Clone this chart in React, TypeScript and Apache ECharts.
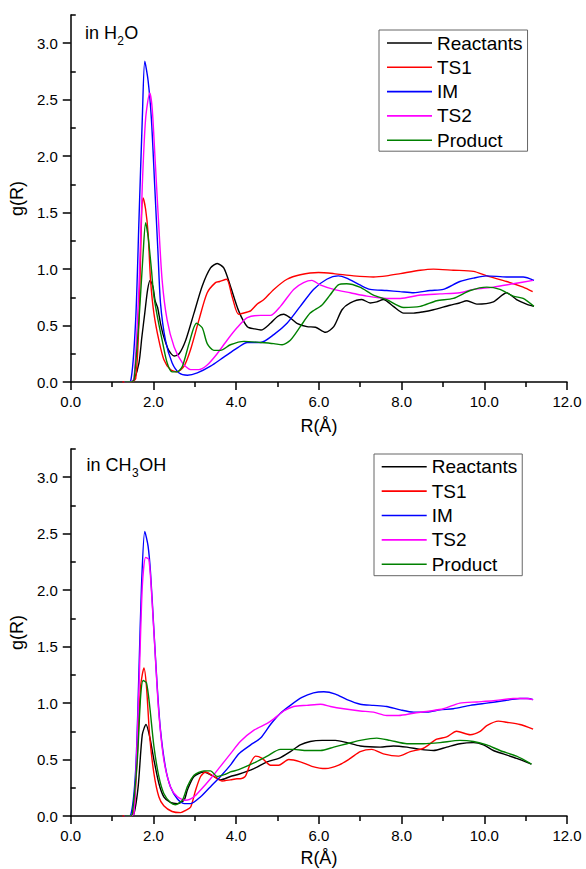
import React, { useEffect, useRef } from 'react';
import * as echarts from 'echarts';

type Pt = [number, number];

const seriesNames = ['Reactants', 'TS1', 'IM', 'TS2', 'Product'];
const seriesColors = ['#000000', '#ff0000', '#0000ff', '#ff00ff', '#008000'];

const yMajorTicks = [0, 0.5, 1.0, 1.5, 2.0, 2.5, 3.0];
const yMinorTicks = [0.25, 0.75, 1.25, 1.75, 2.25, 2.75, 3.25];

// ---- in H2O ----
const h2oReactants: Pt[] = [[1.3,0],[1.45,0],[1.53,0.02],[1.65,0.17],[1.72,0.4],[1.79,0.61],[1.86,0.82],[1.92,0.9],[1.99,0.84],[2.04,0.72],[2.1,0.66],[2.17,0.52],[2.25,0.4],[2.37,0.28],[2.5,0.23],[2.62,0.25],[2.78,0.37],[2.98,0.61],[3.18,0.85],[3.38,1.01],[3.54,1.05],[3.7,1.01],[3.86,0.85],[4.06,0.63],[4.27,0.49],[4.45,0.47],[4.6,0.46],[4.83,0.52],[5.0,0.58],[5.15,0.6],[5.3,0.57],[5.47,0.52],[5.71,0.49],[5.92,0.485],[6.16,0.44],[6.36,0.49],[6.56,0.64],[6.76,0.7],[7.04,0.73],[7.24,0.7],[7.4,0.71],[7.56,0.73],[7.8,0.67],[8.05,0.61],[8.29,0.61],[8.5,0.62],[8.77,0.64],[9.17,0.68],[9.4,0.7],[9.58,0.72],[9.82,0.69],[10.22,0.71],[10.54,0.79],[10.78,0.73],[11.02,0.69],[11.2,0.67]];
const h2oTS1: Pt[] = [[1.25,0],[1.45,0],[1.57,0.03],[1.65,0.55],[1.71,1.44],[1.75,1.63],[1.81,1.53],[1.87,1.32],[1.93,0.9],[2.01,0.61],[2.13,0.37],[2.25,0.2],[2.41,0.11],[2.57,0.09],[2.74,0.14],[2.9,0.29],[3.1,0.55],[3.3,0.79],[3.5,0.88],[3.6,0.89],[3.77,0.91],[3.9,0.76],[4.06,0.6],[4.27,0.62],[4.35,0.63],[4.51,0.69],[4.67,0.73],[4.91,0.82],[5.23,0.91],[5.55,0.95],[5.99,0.97],[6.36,0.96],[6.84,0.94],[7.32,0.93],[7.64,0.94],[7.97,0.96],[8.45,0.99],[8.77,1.0],[9.25,0.99],[9.74,0.98],[10.06,0.94],[10.54,0.89],[10.94,0.84],[11.17,0.8]];
const h2oIM: Pt[] = [[1.3,0],[1.45,0.01],[1.57,0.55],[1.65,1.44],[1.73,2.33],[1.79,2.84],[1.87,2.67],[1.95,2.33],[2.03,1.74],[2.11,1.14],[2.17,0.7],[2.29,0.37],[2.45,0.17],[2.62,0.08],[2.82,0.06],[3.06,0.08],[3.38,0.14],[3.7,0.22],[4.02,0.3],[4.27,0.35],[4.59,0.35],[4.91,0.42],[5.23,0.52],[5.55,0.67],[5.87,0.82],[6.19,0.91],[6.47,0.94],[6.67,0.92],[6.99,0.86],[7.24,0.82],[7.64,0.81],[7.97,0.8],[8.29,0.79],[8.69,0.81],[9.01,0.82],[9.41,0.89],[9.74,0.92],[10.06,0.94],[10.54,0.93],[10.94,0.93],[11.2,0.9]];
const h2oTS2: Pt[] = [[1.3,0],[1.45,0],[1.53,0.03],[1.65,0.85],[1.73,1.74],[1.81,2.33],[1.91,2.56],[1.97,2.42],[2.04,1.97],[2.12,1.44],[2.21,0.9],[2.33,0.55],[2.5,0.31],[2.7,0.17],[2.9,0.11],[3.1,0.11],[3.3,0.15],[3.54,0.25],[3.78,0.37],[4.02,0.48],[4.27,0.57],[4.59,0.59],[4.83,0.59],[5.07,0.67],[5.39,0.82],[5.63,0.88],[5.83,0.9],[6.03,0.86],[6.36,0.82],[6.76,0.79],[7.16,0.76],[7.64,0.74],[7.97,0.74],[8.45,0.77],[8.93,0.78],[9.41,0.79],[9.74,0.82],[10.22,0.84],[10.7,0.87],[11.18,0.9]];
const h2oProduct: Pt[] = [[1.3,0],[1.45,0],[1.53,0.02],[1.65,0.55],[1.75,1.14],[1.81,1.41],[1.87,1.29],[1.95,1.0],[2.01,0.76],[2.11,0.55],[2.21,0.37],[2.33,0.17],[2.45,0.09],[2.57,0.09],[2.7,0.14],[2.86,0.34],[3.04,0.52],[3.18,0.48],[3.3,0.34],[3.46,0.28],[3.62,0.28],[3.86,0.33],[4.19,0.36],[4.59,0.35],[4.91,0.34],[5.11,0.33],[5.31,0.37],[5.55,0.49],[5.79,0.61],[6.07,0.68],[6.27,0.77],[6.47,0.86],[6.67,0.87],[6.99,0.84],[7.32,0.77],[7.64,0.73],[8.05,0.66],[8.45,0.67],[8.85,0.72],[9.25,0.74],[9.66,0.81],[10.06,0.84],[10.38,0.82],[10.7,0.76],[10.94,0.74],[11.2,0.67]];

// ---- in CH3OH ----
const meohReactants: Pt[] = [[1.3,0],[1.45,0],[1.53,0.02],[1.63,0.26],[1.73,0.72],[1.82,0.81],[1.91,0.7],[2.01,0.5],[2.13,0.29],[2.25,0.17],[2.41,0.12],[2.58,0.11],[2.74,0.14],[2.82,0.23],[2.98,0.35],[3.22,0.39],[3.46,0.35],[3.62,0.32],[3.86,0.35],[4.06,0.37],[4.43,0.42],[4.75,0.48],[5.03,0.51],[5.31,0.57],[5.55,0.63],[5.79,0.66],[6.08,0.67],[6.4,0.67],[6.68,0.65],[7.0,0.62],[7.48,0.61],[7.8,0.62],[8.13,0.61],[8.45,0.59],[8.77,0.58],[9.09,0.61],[9.41,0.64],[9.74,0.65],[9.98,0.63],[10.22,0.58],[10.46,0.55],[10.78,0.51],[11.14,0.46]];
const meohTS1: Pt[] = [[1.25,0],[1.45,0],[1.53,0.05],[1.61,0.55],[1.69,1.15],[1.77,1.31],[1.83,1.15],[1.91,0.7],[2.01,0.38],[2.13,0.17],[2.25,0.09],[2.45,0.04],[2.66,0.03],[2.78,0.05],[2.9,0.08],[3.02,0.23],[3.14,0.35],[3.26,0.39],[3.46,0.35],[3.66,0.31],[3.86,0.32],[4.02,0.33],[4.1,0.33],[4.22,0.35],[4.35,0.47],[4.47,0.53],[4.63,0.51],[4.83,0.45],[5.03,0.45],[5.27,0.5],[5.55,0.48],[5.83,0.44],[6.16,0.42],[6.48,0.45],[6.76,0.51],[7.0,0.57],[7.28,0.59],[7.56,0.55],[7.93,0.53],[8.21,0.57],[8.53,0.6],[8.85,0.68],[9.09,0.7],[9.33,0.75],[9.66,0.72],[9.9,0.75],[10.06,0.8],[10.34,0.84],[10.54,0.83],[10.86,0.81],[11.18,0.77]];
const meohIM: Pt[] = [[1.3,0],[1.45,0.01],[1.57,0.41],[1.65,1.29],[1.71,2.03],[1.79,2.52],[1.87,2.39],[1.93,2.15],[2.01,1.65],[2.09,1.15],[2.17,0.76],[2.29,0.43],[2.41,0.26],[2.58,0.15],[2.74,0.11],[2.9,0.11],[3.14,0.17],[3.38,0.26],[3.62,0.35],[3.86,0.45],[4.06,0.55],[4.35,0.63],[4.59,0.69],[4.83,0.81],[5.07,0.91],[5.31,0.98],[5.59,1.05],[5.87,1.09],[6.12,1.1],[6.4,1.08],[6.68,1.03],[7.0,0.99],[7.32,0.98],[7.64,0.97],[7.97,0.94],[8.29,0.92],[8.61,0.92],[8.93,0.94],[9.25,0.95],[9.66,0.98],[10.06,1.0],[10.46,1.02],[10.86,1.04],[11.06,1.04],[11.18,1.03]];
const meohTS2: Pt[] = [[1.3,0],[1.45,0],[1.53,0.02],[1.65,1.15],[1.73,2.03],[1.81,2.29],[1.89,2.27],[1.97,1.88],[2.05,1.38],[2.13,0.91],[2.25,0.5],[2.41,0.26],[2.58,0.17],[2.78,0.14],[2.98,0.17],[3.14,0.23],[3.38,0.33],[3.62,0.44],[3.86,0.55],[4.1,0.66],[4.43,0.76],[4.75,0.82],[4.91,0.86],[5.15,0.93],[5.39,0.97],[5.71,0.98],[6.04,0.99],[6.28,0.97],[6.6,0.95],[7.0,0.93],[7.32,0.92],[7.64,0.89],[7.93,0.89],[8.29,0.91],[8.69,0.93],[9.01,0.95],[9.41,1.0],[9.82,1.01],[10.22,1.02],[10.7,1.04],[11.02,1.04],[11.18,1.03]];
const meohProduct: Pt[] = [[1.3,0],[1.45,0],[1.49,0.02],[1.61,0.5],[1.69,1.06],[1.75,1.2],[1.83,1.18],[1.91,0.97],[2.01,0.62],[2.13,0.35],[2.25,0.2],[2.41,0.12],[2.53,0.1],[2.7,0.14],[2.82,0.26],[2.98,0.36],[3.22,0.4],[3.38,0.4],[3.54,0.35],[3.74,0.37],[3.86,0.39],[4.06,0.41],[4.43,0.47],[4.75,0.53],[5.07,0.59],[5.39,0.59],[5.71,0.58],[6.04,0.58],[6.36,0.61],[6.68,0.64],[7.0,0.67],[7.4,0.69],[7.72,0.67],[8.13,0.64],[8.53,0.64],[8.93,0.65],[9.41,0.67],[9.74,0.66],[10.06,0.63],[10.38,0.58],[10.78,0.53],[11.14,0.46]];

const panelData: Pt[][][] = [
  [h2oReactants, h2oTS1, h2oIM, h2oTS2, h2oProduct],
  [meohReactants, meohTS1, meohIM, meohTS2, meohProduct],
];

const FONT = '"Liberation Sans", Arial, Helvetica, sans-serif';

function buildOption(): any {
  const gridTops = [15, 449];
  const grid = gridTops.map((t) => ({ left: 70, width: 497, top: t, height: 367 }));
  const axisLineStyle = { color: '#000', width: 1.5 };
  const xAxis = [0, 1].map((i) => ({
    type: 'value',
    gridIndex: i,
    min: 0,
    max: 12,
    interval: 2,
    axisLine: { show: true, onZero: false, lineStyle: axisLineStyle },
    axisTick: { show: true, length: 8, lineStyle: axisLineStyle },
    minorTick: { show: true, splitNumber: 2, length: 5, lineStyle: axisLineStyle },
    splitLine: { show: false },
    minorSplitLine: { show: false },
    axisLabel: { formatter: (v: number) => v.toFixed(1), fontSize: 15, color: '#000', margin: 12, fontFamily: FONT },
    name: 'R(Å)',
    nameLocation: 'middle',
    nameGap: i === 0 ? 35 : 33,
    nameTextStyle: { fontSize: 18, color: '#000', fontFamily: FONT },
  }));
  const yAxis: any[] = [];
  [0, 1].forEach((i) => {
    yAxis.push({
      type: 'value',
      gridIndex: i,
      min: 0,
      max: 3.25,
      axisLine: { show: true, onZero: false, lineStyle: axisLineStyle },
      axisTick: { show: true, length: 8, lineStyle: axisLineStyle, customValues: yMajorTicks },
      splitLine: { show: false },
      axisLabel: {
        customValues: yMajorTicks,
        formatter: (v: number) => v.toFixed(1),
        fontSize: 15,
        color: '#000',
        margin: 13,
        fontFamily: FONT,
      },
      name: 'g(R)',
      nameLocation: 'middle',
      nameGap: 35,
      nameTextStyle: { fontSize: 18, color: '#000', fontFamily: FONT },
    });
    yAxis.push({
      type: 'value',
      gridIndex: i,
      min: 0,
      max: 3.25,
      axisLine: { show: false },
      axisTick: { show: true, length: 5, lineStyle: axisLineStyle, customValues: yMinorTicks },
      axisLabel: { show: false },
      splitLine: { show: false },
    });
  });

  const series: any[] = [];
  panelData.forEach((curves, p) => {
    curves.forEach((data, k) => {
      series.push({
        type: 'line',
        name: seriesNames[k],
        xAxisIndex: p,
        yAxisIndex: p * 2,
        data,
        symbol: 'none',
        smooth: 0.25,
        lineStyle: { color: seriesColors[k], width: 1.4 },
        itemStyle: { color: seriesColors[k] },
      });
    });
  });

  const legendBase = {
    orient: 'vertical',
    icon: 'rect',
    itemWidth: 45,
    itemHeight: 1.6,
    backgroundColor: '#fff',
    borderColor: '#666',
    borderWidth: 1,
    borderRadius: 0,
    data: seriesNames,
    textStyle: { fontSize: 19, lineHeight: 20, color: '#000', fontFamily: FONT },
    selectedMode: false,
  };
  const legend = [
    { ...legendBase, left: 379, top: 30, itemGap: 4.3, padding: [3, 5, 1, 8] },
    { ...legendBase, left: 374, top: 454, itemGap: 4.4, padding: [2.7, 5, 1.4, 7.7] },
  ];

  const txt = (text: string, x: number, y: number, size: number) => ({
    type: 'text',
    x,
    y,
    style: { text, fontSize: size, fontFamily: FONT, fill: '#000', align: 'left', verticalAlign: 'middle' },
  });
  const graphic = [
    txt('in H', 85, 32.5, 18),
    txt('2', 117.2, 41, 12),
    txt('O', 124.3, 32.5, 18),
    txt('in CH', 86.5, 465, 18),
    txt('3', 132, 473, 12),
    txt('OH', 139.2, 465, 18),
  ];

  return {
    animation: false,
    backgroundColor: '#fff',
    textStyle: { fontFamily: FONT },
    grid,
    xAxis,
    yAxis,
    legend,
    series,
    graphic,
  };
}

export default function App() {
  const ref = useRef<HTMLDivElement>(null);
  useEffect(() => {
    if (!ref.current) return;
    const chart = echarts.init(ref.current, undefined, { renderer: 'svg' });
    chart.setOption(buildOption());
    return () => chart.dispose();
  }, []);
  return (
    <div
      ref={ref}
      style={{ position: 'absolute', left: 0, top: 0, width: 586, height: 869, background: '#fff' }}
    />
  );
}
